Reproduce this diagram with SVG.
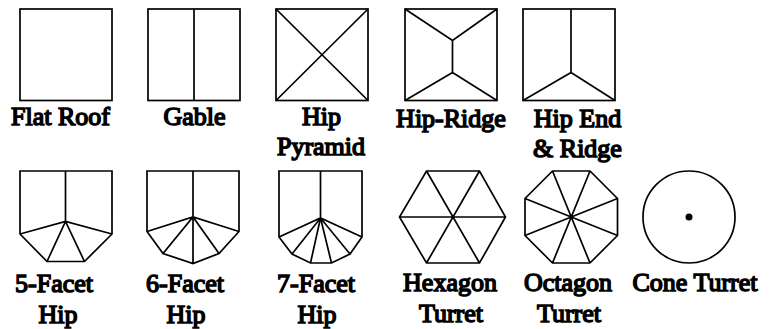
<svg xmlns="http://www.w3.org/2000/svg" width="779" height="329" viewBox="0 0 779 329">
<style>
rect.bg{fill:#fff}
.s{fill:none;stroke:#000;stroke-width:1.7;stroke-linejoin:miter}
text{font-family:"Liberation Serif","Times New Roman",serif;font-size:26px;fill:#000;stroke:#000;stroke-width:1.5;text-anchor:middle}
</style>
<rect class="bg" width="779" height="329"/>
<g id="flat-roof"><rect class="s" x="20" y="9" width="92" height="91.500"/><text x="60.500" y="125">Flat Roof</text></g>
<g id="gable"><rect class="s" x="148" y="9" width="92" height="91.500"/><path class="s" d="M194 9V100.500"/><text x="194.500" y="125">Gable</text></g>
<g id="hip-pyramid"><rect class="s" x="276" y="9" width="92" height="91.500"/><path class="s" d="M276 9L368 100.500M368 9L276 100.500"/><text x="321.500" y="125">Hip</text><text x="321" y="155">Pyramid</text></g>
<g id="hip-ridge"><rect class="s" x="405" y="9" width="92" height="91.500"/><path class="s" d="M405 9L452.500 40.500L497 9M452.500 40.500V72.500M405 100.500L452.500 72.500L497 100.500"/><text x="451" y="127">Hip-Ridge</text></g>
<g id="hip-end-ridge"><rect class="s" x="523" y="9" width="92" height="91.500"/><path class="s" d="M571 9V72.500M523 100.500L571 72.500L615 100.500"/><text x="577.500" y="127">Hip End</text><text x="577.500" y="157">&amp; Ridge</text></g>
<g id="five-facet-hip"><path class="s" d="M20 171H112V234L84.500 261.500H47L20 234ZM65.500 171V221.500M20 234L65.500 221.500L112 234M47 261.500L65.500 221.500L84.500 261.500"/><text x="54" y="292">5-Facet</text><text x="58" y="323">Hip</text></g>
<g id="six-facet-hip"><path class="s" d="M147 171H239V231.500L219 253.500L193 263.500L163 253.500L147 231.500ZM193 171V263.500M147 231.500L193 217L239 231.500M163 253.500L193 217L219 253.500"/><text x="185" y="292">6-Facet</text><text x="186" y="323">Hip</text></g>
<g id="seven-facet-hip"><path class="s" d="M279 171H362V237L350 254L331.500 263H310.500L292 254L279 237ZM320.500 171V218M279 237L320.500 218L362 237M292 254L320.500 218L350 254M310.500 263L320.500 218L331.500 263"/><text x="316" y="292">7-Facet</text><text x="317" y="323">Hip</text></g>
<g id="hexagon-turret"><path class="s" d="M426.500 171H479.500L505.500 217L479.500 263H426.500L399.500 217ZM399.500 217H505.500M426.500 171L479.500 263M479.500 171L426.500 263"/><text x="450" y="291">Hexagon</text><text x="451" y="322">Turret</text></g>
<g id="octagon-turret"><path class="s" d="M552.500 171H590L617.500 198.500V235.500L590 263H552.500L525 235.500V198.500ZM552.500 171L590 263M590 171L552.500 263M617.500 198.500L525 235.500M617.500 235.500L525 198.500"/><text x="568" y="291">Octagon</text><text x="569" y="322">Turret</text></g>
<g id="cone-turret"><circle class="s" cx="689" cy="217" r="46"/><circle cx="689" cy="217" r="3.500" fill="#000"/><text x="695" y="291">Cone Turret</text></g>
</svg>
